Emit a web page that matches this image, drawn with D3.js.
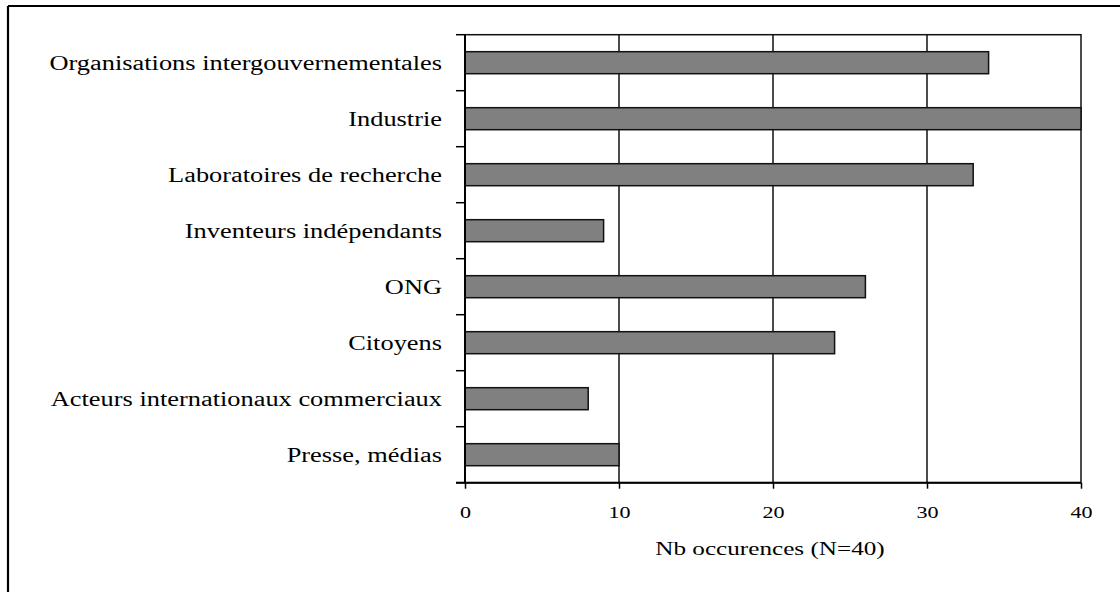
<!DOCTYPE html>
<html>
<head>
<meta charset="utf-8">
<script src="https://cdn.jsdelivr.net/npm/d3@7"></script>
<style>
  body { margin: 0; background: #fff; }
  text { font-family: "Liberation Serif", "Times New Roman", serif; fill: #000; }
</style>
</head>
<body>
<div id="chart"></div>
<script>
// categories, top to bottom
var categories = [
  "Organisations intergouvernementales",
  "Industrie",
  "Laboratoires de recherche",
  "Inventeurs indépendants",
  "ONG",
  "Citoyens",
  "Acteurs internationaux commerciaux",
  "Presse, médias"
];
// Nb occurences
var values = [34, 40, 33, 9, 26, 24, 8, 10];
var xTicks = [0, 10, 20, 30, 40];
var xTitle = "Nb occurences (N=40)";

var width = 1120;
var height = 592;

// plot area
var plotLeft = 465;
var plotRight = 1081;
var plotTop = 34.7;
var plotBottom = 482.7;

// the text in the original is stretched sideways
var stretch = 1.32;

var svg = d3.select("#chart")
  .append("svg")
  .attr("width", width)
  .attr("height", height);

// outer frame (top and left edges only visible)
svg.append("line")
  .attr("x1", 8).attr("x2", width)
  .attr("y1", 6).attr("y2", 6)
  .attr("stroke", "#000").attr("stroke-width", 2.2);
svg.append("line")
  .attr("x1", 8).attr("x2", 8)
  .attr("y1", 6).attr("y2", height)
  .attr("stroke", "#000").attr("stroke-width", 2.2);

var xScale = d3.scaleLinear()
  .domain([0, 40])
  .range([plotLeft, plotRight]);

var yScale = d3.scaleBand()
  .domain(categories)
  .range([plotTop, plotBottom])
  .paddingInner(0.607)
  .paddingOuter(0.3035);

// plot border (top, right)
svg.append("rect")
  .attr("x", plotLeft).attr("y", plotTop)
  .attr("width", plotRight - plotLeft).attr("height", plotBottom - plotTop)
  .attr("fill", "none")
  .attr("stroke", "#111").attr("stroke-width", 1.5);

// vertical gridlines
svg.append("g")
  .selectAll("line")
  .data(xTicks.slice(1, -1))
  .enter()
  .append("line")
  .attr("x1", function(d) { return xScale(d); })
  .attr("x2", function(d) { return xScale(d); })
  .attr("y1", plotTop).attr("y2", plotBottom)
  .attr("stroke", "#111").attr("stroke-width", 1.5);

// bars
svg.append("g")
  .selectAll("rect")
  .data(values)
  .enter()
  .append("rect")
  .attr("x", xScale(0))
  .attr("y", function(d, i) { return yScale(categories[i]); })
  .attr("width", function(d) { return xScale(d) - xScale(0); })
  .attr("height", yScale.bandwidth())
  .attr("fill", "#808080")
  .attr("stroke", "#111")
  .attr("stroke-width", 1.5);

// x axis
var xAxis = d3.axisBottom(xScale)
  .tickValues(xTicks)
  .tickSize(6)
  .tickSizeOuter(0);

var gx = svg.append("g")
  .attr("transform", "translate(0," + plotBottom + ")")
  .call(xAxis);
gx.select(".domain")
  .attr("d", "M" + (plotLeft - 9) + ",0H" + plotRight)
  .attr("stroke", "#000").attr("stroke-width", 2);
gx.selectAll(".tick line").attr("stroke", "#000").attr("stroke-width", 1.5);
gx.selectAll(".tick text")
  .attr("y", 23)
  .attr("dy", "0.71em")
  .attr("transform", "scale(1.3,1)")
  .style("font-size", "17px")
  .style("font-family", "'Liberation Serif', 'Times New Roman', serif");

// y axis line and ticks on the band edges
var step = yScale.step();
var yEdges = d3.range(categories.length + 1).map(function(i) { return plotTop + i * step; });

svg.append("line")
  .attr("x1", plotLeft).attr("x2", plotLeft)
  .attr("y1", plotTop).attr("y2", plotBottom)
  .attr("stroke", "#000").attr("stroke-width", 2);

svg.append("g")
  .selectAll("line")
  .data(yEdges)
  .enter()
  .append("line")
  .attr("x1", plotLeft - 9).attr("x2", plotLeft)
  .attr("y1", function(d) { return d; })
  .attr("y2", function(d) { return d; })
  .attr("stroke", "#000").attr("stroke-width", 1.5);

// category labels
svg.append("g")
  .selectAll("g")
  .data(categories)
  .enter()
  .append("g")
  .attr("transform", function(d) {
    return "translate(442," + (yScale(d) + yScale.bandwidth() / 2 + 7) + ") scale(" + stretch + ",1)";
  })
  .append("text")
  .attr("text-anchor", "end")
  .style("font-size", "20px")
  .text(function(d) { return d; });

// axis title
svg.append("g")
  .attr("transform", "translate(" + ((plotLeft + plotRight) / 2 - 3) + ",555) scale(1.4,1)")
  .append("text")
  .attr("text-anchor", "middle")
  .style("font-size", "18px")
  .text(xTitle);
</script>
</body>
</html>
